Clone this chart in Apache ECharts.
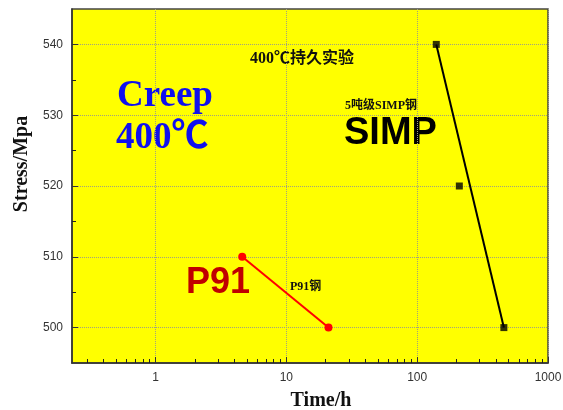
<!DOCTYPE html>
<html lang="zh-CN">
<head>
    <meta charset="UTF-8">
    <title>creep400</title>
    <script src="https://cdn.jsdelivr.net/npm/echarts@6/dist/echarts.min.js"></script>
</head>
<body style="margin:0;background:#fff;">
<div id="main" style="width:563px;height:410px;"></div>
<script type="text/javascript">
    // 数据
    var p91Time = [4.6, 21];
    var p91Stress = [510, 500];
    var simpTime = [140, 210, 460];
    var simpStress = [540, 520, 500];
    var simpFitTime = [140, 460];
    var simpFitStress = [540, 500];
    var xTicks = [1, 10, 100, 1000];
    var yTicks = [500, 510, 520, 530, 540];
    var yMinorTicks = [505, 515, 525, 535];

    var xMinorTicks = [];
    [0.1, 1, 10, 100].forEach(function (d) {
        for (var k = 2; k <= 9; k++) {
            var v = +(d * k).toFixed(2);
            if (v > 0.23) xMinorTicks.push(v);
        }
    });

    function pairs(xs, ys) {
        return xs.map(function (x, i) { return [x, ys[i]]; });
    }

    var serif = '"Liberation Serif", "Times New Roman", "Noto Sans CJK SC", serif';
    var cjkSerif = '"Liberation Serif", "Noto Sans CJK SC", serif';
    var sans = '"Liberation Sans", Arial, sans-serif';
    var grid = {color: '#a0a080', type: 'dotted', width: 1};

    var myChart = echarts.init(document.getElementById('main'));
    myChart.setOption({
        animation: false,
        backgroundColor: '#fff',
        grid: {
            left: 72, right: 15, top: 9, bottom: 47,
            outerBoundsMode: 'none',
            show: true, backgroundColor: '#ffff00',
            borderColor: '#444', borderWidth: 1.5
        },
        xAxis: [{
            type: 'log', logBase: 10, min: 0.23, max: 1000,
            name: 'Time/h', nameLocation: 'middle', nameGap: 28,
            nameTextStyle: {fontFamily: serif, fontWeight: 'bold', fontSize: 20, color: '#111', padding: [0, 0, 0, 22]},
            axisLine: {lineStyle: {color: '#333', width: 1.5}},
            axisTick: {inside: true, length: 6, customValues: xTicks, lineStyle: {color: '#333'}},
            axisLabel: {
                customValues: xTicks, color: '#333', fontFamily: sans, fontSize: 12, margin: 9,
                formatter: function (v) { return String(Math.round(v)); }
            },
            splitLine: {show: true, lineStyle: grid}
        }, {
            type: 'log', logBase: 10, min: 0.23, max: 1000, position: 'bottom',
            axisLine: {show: false},
            axisTick: {inside: true, length: 4, customValues: xMinorTicks, lineStyle: {color: '#222'}},
            axisLabel: {show: false},
            splitLine: {show: false}
        }],
        yAxis: [{
            type: 'value', min: 495, max: 545,
            name: 'Stress/Mpa', nameLocation: 'middle', nameGap: 38,
            nameTextStyle: {fontFamily: serif, fontWeight: 'bold', fontSize: 20, color: '#111', padding: [0, 0, 0, 44]},
            axisLine: {show: true, lineStyle: {color: '#333', width: 1.5}},
            axisTick: {show: true, inside: true, length: 6, customValues: yTicks, lineStyle: {color: '#333'}},
            axisLabel: {customValues: yTicks, color: '#333', fontFamily: sans, fontSize: 12, margin: 9},
            splitLine: {show: true, lineStyle: grid}
        }, {
            type: 'value', min: 495, max: 545, position: 'left',
            axisLine: {show: false},
            axisTick: {show: true, inside: true, length: 4, customValues: yMinorTicks, lineStyle: {color: '#222'}},
            axisLabel: {show: false},
            splitLine: {show: false}
        }],
        series: [{
            name: 'P91钢', type: 'line',
            data: pairs(p91Time, p91Stress),
            symbol: 'circle', symbolSize: 8,
            lineStyle: {color: '#ff0000', width: 2},
            itemStyle: {color: '#ff0000'}
        }, {
            name: 'SIMP fit', type: 'line',
            data: pairs(simpFitTime, simpFitStress),
            symbol: 'none',
            lineStyle: {color: '#000', width: 2}
        }, {
            name: '5吨级SIMP钢', type: 'scatter',
            data: pairs(simpTime, simpStress),
            symbol: 'rect', symbolSize: 7,
            itemStyle: {color: '#000'}
        }],
        graphic: [
            {type: 'text', left: 117, top: 78, style: {text: 'Creep', font: 'bold 37px ' + serif, fill: '#1010ee'}},
            {type: 'text', left: 116, top: 120, style: {text: '400℃', font: 'bold 37px ' + serif, fill: '#1010ee'}},
            {type: 'text', left: 250, top: 51, style: {text: '400℃持久实验', font: 'bold 16px ' + cjkSerif, fill: '#111'}},
            {type: 'text', left: 345, top: 100, style: {text: '5吨级SIMP钢', font: 'bold 12px ' + cjkSerif, fill: '#111'}},
            {type: 'text', left: 344, top: 115, style: {text: 'SIMP', font: 'bold 38px ' + sans, fill: '#000'}},
            {type: 'text', left: 186, top: 265, style: {text: 'P91', font: 'bold 36px ' + sans, fill: '#c00000'}},
            {type: 'text', left: 290, top: 281, style: {text: 'P91钢', font: 'bold 12px ' + cjkSerif, fill: '#111'}}
        ]
    });
</script>
</body>
</html>
